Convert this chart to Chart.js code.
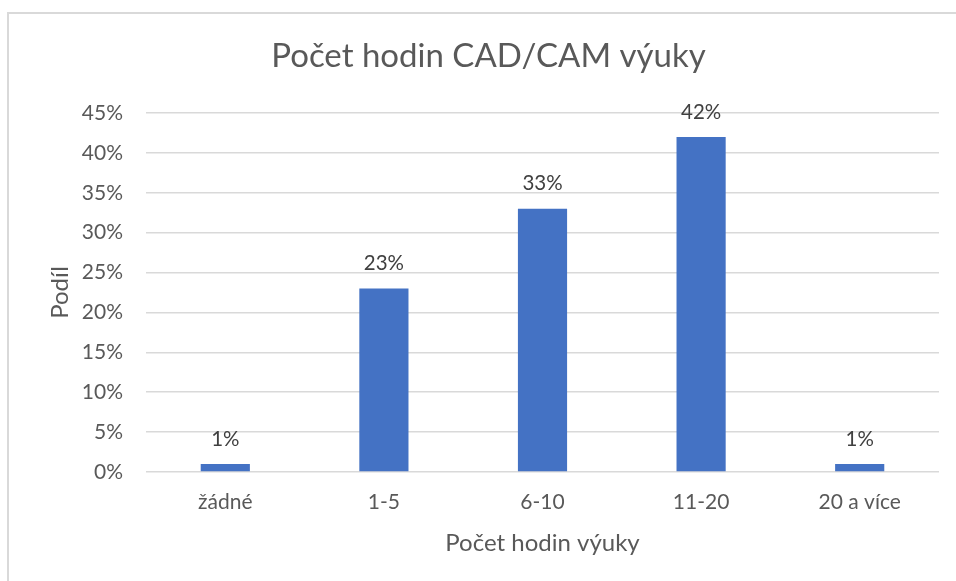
<!DOCTYPE html>
<html>
<head>
<meta charset="utf-8">
<script src="https://cdn.jsdelivr.net/npm/chart.js@4/dist/chart.umd.min.js"></script>
<style>
html,body{margin:0;padding:0;background:#fff;}
#wrap{width:956px;height:581px;position:relative;}
</style>
</head>
<body>
<div id="wrap"><canvas id="c" width="956" height="581"></canvas></div>
<script>
const categories = ["žádné", "1-5", "6-10", "11-20", "20 a více"];
const shares = [1, 23, 33, 42, 1];
const yTicks = [0, 5, 10, 15, 20, 25, 30, 35, 40, 45];
const chartTitle = "Počet hodin CAD/CAM výuky";
const xTitle = "Počet hodin výuky";
const yTitle = "Podíl";

const FONT = "Lato, 'Open Sans', sans-serif";
const TXT = "#595959";

const frame = {
  id: 'frame',
  beforeDraw(chart) {
    const ctx = chart.ctx;
    ctx.save();
    ctx.fillStyle = '#fff';
    ctx.fillRect(0, 0, chart.width, chart.height);
    ctx.strokeStyle = '#d9d9d9';
    ctx.lineWidth = 2;
    ctx.beginPath();
    ctx.moveTo(8, chart.height);
    ctx.lineTo(8, 13);
    ctx.lineTo(chart.width, 13);
    ctx.stroke();
    ctx.restore();
  }
};

const dataLabels = {
  id: 'dataLabels',
  afterDatasetsDraw(chart) {
    const ctx = chart.ctx;
    ctx.save();
    ctx.font = "20.5px " + FONT;
    ctx.fillStyle = "#404040";
    ctx.textAlign = 'center';
    ctx.textBaseline = 'middle';
    chart.getDatasetMeta(0).data.forEach((bar, i) => {
      ctx.fillText(shares[i] + '%', bar.x, bar.y - 25);
    });
    ctx.restore();
  }
};

new Chart(document.getElementById('c'), {
  type: 'bar',
  data: {
    labels: categories,
    datasets: [{
      data: shares,
      backgroundColor: '#4472C4',
      borderWidth: 0,
      categoryPercentage: 1,
      barPercentage: 0.31
    }]
  },
  options: {
    responsive: false,
    animation: false,
    devicePixelRatio: 1,
    layout: { padding: { top: 37, right: 17, bottom: 0, left: 38 } },
    plugins: {
      legend: { display: false },
      tooltip: { enabled: false },
      title: {
        display: true,
        text: chartTitle,
        color: TXT,
        font: { family: FONT, size: 33, weight: 'normal' },
        padding: { top: 0, bottom: 36.4 }
      }
    },
    scales: {
      x: {
        grid: { display: false, drawTicks: false },
        border: { display: false },
        ticks: { color: TXT, font: { family: FONT, size: 21 }, padding: 18 },
        title: {
          display: true, text: xTitle, color: TXT,
          font: { family: FONT, size: 24 }, padding: { top: 0, bottom: 23.6 }
        },
        afterFit(s) { s.height = 109; }
      },
      y: {
        min: 0, max: 45,
        afterBuildTicks(s) { s.ticks = yTicks.map(v => ({ value: v })); },
        grid: { color: '#d9d9d9', lineWidth: 1.5, drawTicks: false },
        border: { display: false },
        ticks: {
          color: TXT, font: { family: FONT, size: 21 }, padding: 23,
          callback: v => v + '%'
        },
        title: {
          display: true, text: yTitle, color: TXT,
          font: { family: FONT, size: 24 }, padding: { top: 7.6, bottom: 0 }
        },
        afterFit(s) { s.width = 108; }
      }
    }
  },
  plugins: [frame, dataLabels]
});
</script>
</body>
</html>
